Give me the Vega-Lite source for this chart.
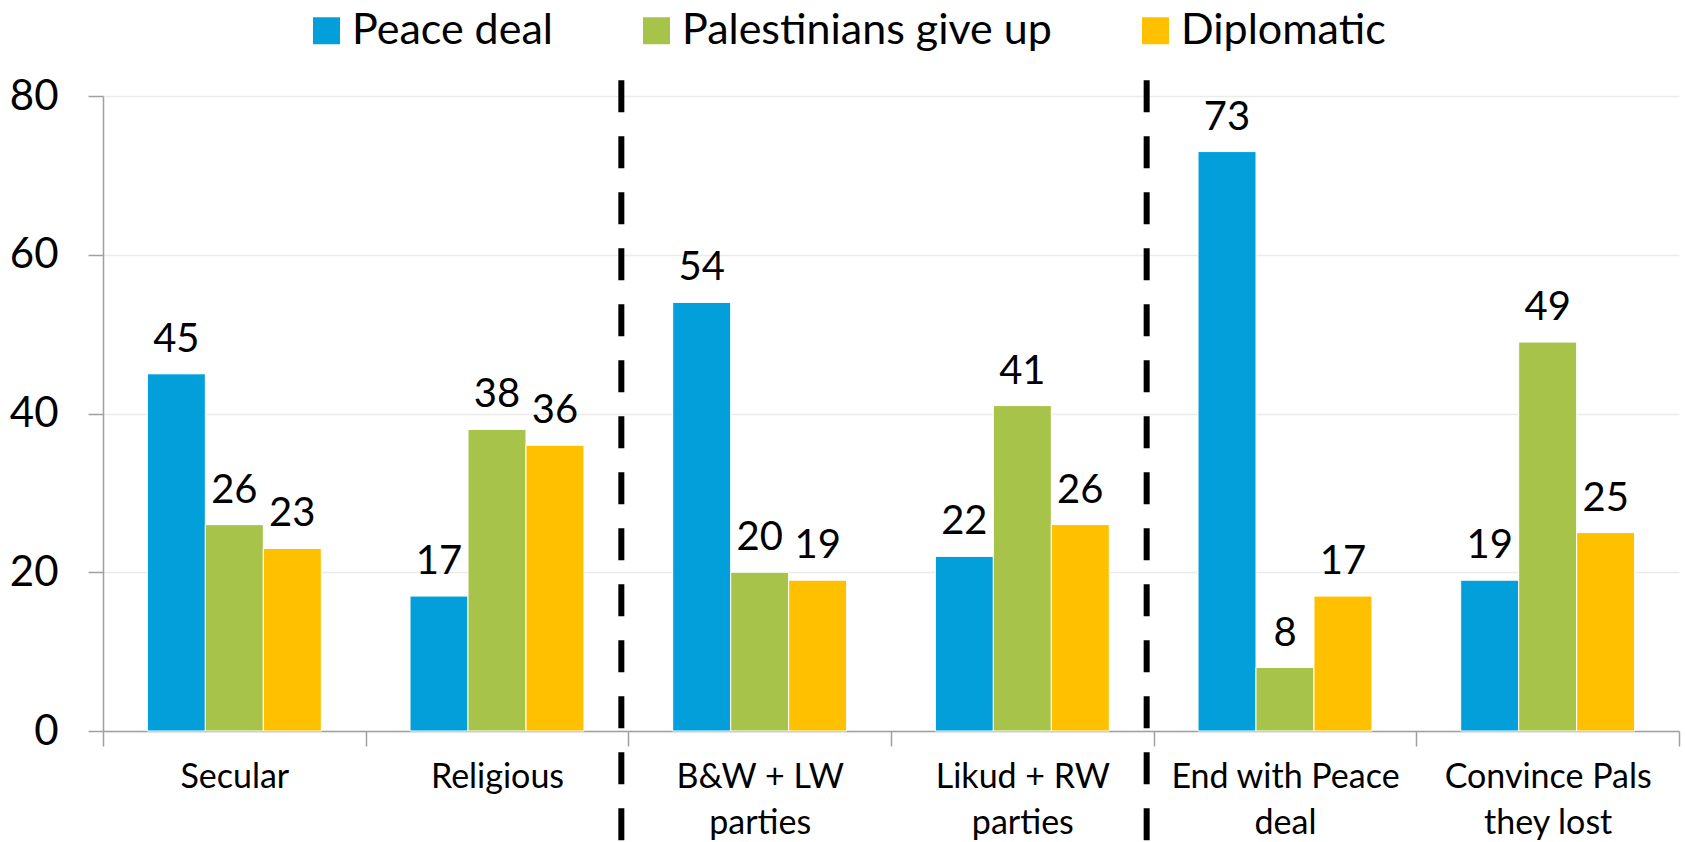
{
  "$schema": "https://vega.github.io/schema/vega-lite/v6.json",
  "width": 1576,
  "height": 635,
  "autosize": {"type": "none"},
  "padding": {"left": 103, "top": 96, "right": 6, "bottom": 111},
  "background": "white",
  "config": {
    "view": {"stroke": null},
    "font": "Lato"
  },
  "datasets": {
    "bars": [
      {"cat": "Secular", "series": "Peace deal", "value": 45},
      {"cat": "Secular", "series": "Palestinians give up", "value": 26},
      {"cat": "Secular", "series": "Diplomatic", "value": 23},
      {"cat": "Religious", "series": "Peace deal", "value": 17},
      {"cat": "Religious", "series": "Palestinians give up", "value": 38},
      {"cat": "Religious", "series": "Diplomatic", "value": 36},
      {"cat": "B&W + LW|parties", "series": "Peace deal", "value": 54},
      {"cat": "B&W + LW|parties", "series": "Palestinians give up", "value": 20},
      {"cat": "B&W + LW|parties", "series": "Diplomatic", "value": 19},
      {"cat": "Likud + RW|parties", "series": "Peace deal", "value": 22},
      {"cat": "Likud + RW|parties", "series": "Palestinians give up", "value": 41},
      {"cat": "Likud + RW|parties", "series": "Diplomatic", "value": 26},
      {"cat": "End with Peace|deal", "series": "Peace deal", "value": 73},
      {"cat": "End with Peace|deal", "series": "Palestinians give up", "value": 8},
      {"cat": "End with Peace|deal", "series": "Diplomatic", "value": 17},
      {"cat": "Convince Pals|they lost", "series": "Peace deal", "value": 19},
      {"cat": "Convince Pals|they lost", "series": "Palestinians give up", "value": 49},
      {"cat": "Convince Pals|they lost", "series": "Diplomatic", "value": 25}
    ],
    "dividers": [
      {"cat": "B&W + LW|parties", "top": 82, "bottom": -14},
      {"cat": "End with Peace|deal", "top": 82, "bottom": -14}
    ]
  },
  "layer": [
    {
      "data": {"name": "bars"},
      "mark": {"type": "bar", "stroke": "white", "strokeWidth": 1},
      "encoding": {
        "x": {
          "field": "cat", "type": "nominal", "sort": null,
          "scale": {"paddingInner": 0, "paddingOuter": 0},
          "axis": {
            "title": null,
            "labelAngle": 0,
            "labelExpr": "split(datum.label, '|')",
            "labelFontSize": 34,
            "labelColor": "black",
            "labelLineHeight": 46,
            "labelPadding": 14,
            "labelLimit": 0,
            "tickBand": "extent",
            "tickSize": 15,
            "tickColor": "#A0A0A0",
            "domainColor": "#A0A0A0",
            "domainWidth": 1.5,
            "tickWidth": 1.5
          }
        },
        "xOffset": {
          "field": "series", "type": "nominal",
          "sort": ["Peace deal", "Palestinians give up", "Diplomatic"],
          "scale": {"paddingInner": 0, "paddingOuter": 0.765}
        },
        "y": {
          "field": "value", "type": "quantitative",
          "scale": {"domain": [0, 80]},
          "axis": {
            "title": null,
            "values": [0, 20, 40, 60, 80],
            "labelFontSize": 42,
            "labelColor": "black",
            "labelPadding": 30,
            "tickSize": 15,
            "tickColor": "#A0A0A0",
            "tickWidth": 1.5,
            "domainColor": "#A0A0A0",
            "domainWidth": 1.5,
            "gridColor": "#EBEBEB",
            "gridWidth": 1.5
          }
        },
        "color": {
          "field": "series", "type": "nominal",
          "scale": {
            "domain": ["Peace deal", "Palestinians give up", "Diplomatic"],
            "range": ["#039FDA", "#A8C34A", "#FFC000"]
          },
          "legend": {
            "title": null,
            "orient": "none",
            "direction": "horizontal",
            "legendX": 202,
            "legendY": -87,
            "symbolType": "square",
            "symbolSize": 729,
            "symbolStrokeWidth": 0,
            "labelFontSize": 43,
            "labelColor": "black",
            "labelOffset": 4,
            "labelLimit": 0,
            "columnPadding": 82
          }
        }
      }
    },
    {
      "data": {"name": "bars"},
      "mark": {"type": "text", "fontSize": 40, "baseline": "alphabetic", "dy": -22, "color": "black"},
      "encoding": {
        "x": {"field": "cat", "type": "nominal", "sort": null},
        "xOffset": {"field": "series", "type": "nominal", "sort": ["Peace deal", "Palestinians give up", "Diplomatic"]},
        "y": {"field": "value", "type": "quantitative"},
        "text": {"field": "value", "type": "quantitative"}
      }
    },
    {
      "data": {"name": "dividers"},
      "mark": {"type": "rule", "color": "black", "strokeWidth": 6, "strokeDash": [32, 24], "xOffset": -7},
      "encoding": {
        "x": {"field": "cat", "type": "nominal", "sort": null, "bandPosition": 0},
        "y": {"field": "top", "type": "quantitative"},
        "y2": {"field": "bottom"}
      }
    }
  ]
}
